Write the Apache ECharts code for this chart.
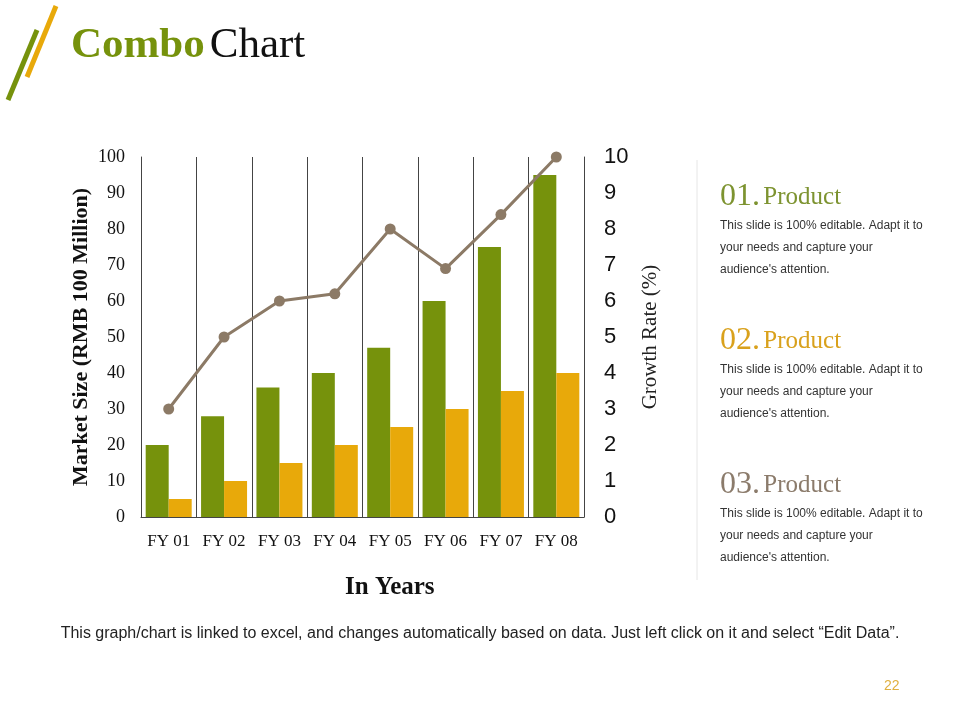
<!DOCTYPE html>
<html>
<head>
<meta charset="utf-8">
<script src="https://cdn.jsdelivr.net/npm/echarts@6/dist/echarts.min.js"></script>
<style>
  html, body { margin: 0; padding: 0; background: #fff; }
  #main { width: 960px; height: 720px; }
</style>
</head>
<body>
<div id="main"></div>
<script>
// chart values
var categories = ['FY 01', 'FY 02', 'FY 03', 'FY 04', 'FY 05', 'FY 06', 'FY 07', 'FY 08'];
var marketSizeA = [20, 28, 36, 40, 47, 60, 75, 95];
var marketSizeB = [5, 10, 15, 20, 25, 30, 35, 40];
var growthRate = [3, 5, 6, 6.2, 8, 6.9, 8.4, 10];

var productTitles = ['01.', '02.', '03.'];
var productColors = ['#7d9330', '#d9a11c', '#8b7b6b'];
var productBody = "This slide is 100% editable. Adapt it to\nyour needs and capture your\naudience's attention.";

var green = '#76920c';
var orange = '#e8a90a';
var lineColor = '#8c7a66';
var serif = '"Liberation Serif", serif';
var sans = '"Liberation Sans", Arial, sans-serif';

var myChart = echarts.init(document.getElementById('main'));

var graphics = [
    // decorative slashes next to the title
    { type: 'line', shape: { x1: 8, y1: 100, x2: 37, y2: 30 }, style: { stroke: '#76920c', lineWidth: 5 } },
    { type: 'line', shape: { x1: 27, y1: 77, x2: 56, y2: 6 }, style: { stroke: '#e8a90a', lineWidth: 5 } },
    // separator on the right panel
    { type: 'line', shape: { x1: 697, y1: 160, x2: 697, y2: 580 }, style: { stroke: '#e6e6e6', lineWidth: 1 } },
    {
        type: 'text', left: 'center', top: 626,
        style: {
            text: 'This graph/chart is linked to excel, and changes automatically based on data. Just left click on it and select \u201cEdit Data\u201d.',
            font: '16px ' + sans, fill: '#222'
        }
    },
    { type: 'text', left: 884, top: 679, style: { text: '22', font: '14px ' + sans, fill: '#e0b040' } },
    // x axis title
    { type: 'text', left: 345, top: 575, style: { text: 'In Years', font: 'bold 25px ' + serif, fill: '#111' } }
];

var headY = [181, 325, 469];
for (var k = 0; k < productTitles.length; k++) {
    graphics.push({
        type: 'text', left: 720, top: headY[k],
        style: {
            text: '{n|' + productTitles[k] + '} {p|Product}',
            rich: {
                n: { font: '32px ' + serif, fill: productColors[k] },
                p: { font: '25px ' + serif, fill: productColors[k] }
            }
        }
    });
    graphics.push({
        type: 'text', left: 720, top: headY[k] + 34,
        style: { text: productBody, font: '12px ' + sans, fill: '#333', lineHeight: 22 }
    });
}

var option = {
    animation: false,
    title: {
        text: '{g|Combo} {b|Chart}',
        left: 66, top: 19,
        textStyle: {
            rich: {
                g: { fontFamily: serif, fontSize: 43, fontWeight: 'bold', color: '#76920c' },
                b: { fontFamily: serif, fontSize: 43, fontWeight: 'normal', color: '#111' }
            }
        }
    },
    grid: { left: 141, right: 376, top: 157, bottom: 203 },
    xAxis: {
        type: 'category',
        data: categories,
        axisLine: { lineStyle: { color: '#444', width: 1 } },
        axisTick: { show: false },
        axisLabel: { interval: 0, fontFamily: serif, fontSize: 17, color: '#111', margin: 16 },
        splitLine: { show: true, interval: 0, lineStyle: { color: '#444', width: 1 } }
    },
    yAxis: [{
        type: 'value',
        min: 0, max: 100, interval: 10,
        name: 'Market Size (RMB 100 Million)',
        nameLocation: 'middle',
        nameRotate: 90,
        nameGap: 49,
        nameTextStyle: { fontFamily: serif, fontSize: 22, fontWeight: 'bold', color: '#111' },
        axisLine: { show: true, lineStyle: { color: '#444', width: 1 } },
        axisTick: { show: false },
        axisLabel: { fontFamily: serif, fontSize: 18, color: '#111', margin: 16 },
        splitLine: { show: false }
    }, {
        type: 'value',
        min: 0, max: 10, interval: 1,
        name: 'Growth Rate (%)',
        nameLocation: 'middle',
        nameRotate: 90,
        nameGap: 56,
        nameTextStyle: { fontFamily: serif, fontSize: 21, color: '#222' },
        axisLine: { show: true, lineStyle: { color: '#444', width: 1 } },
        axisTick: { show: false },
        axisLabel: { fontFamily: sans, fontSize: 22, color: '#111', margin: 20 },
        splitLine: { show: false }
    }],
    series: [{
        type: 'bar',
        data: marketSizeA,
        barWidth: 23,
        barGap: '0%',
        itemStyle: { color: green }
    }, {
        type: 'bar',
        data: marketSizeB,
        barWidth: 23,
        itemStyle: { color: orange }
    }, {
        type: 'line',
        yAxisIndex: 1,
        data: growthRate,
        symbol: 'circle',
        symbolSize: 11,
        lineStyle: { color: lineColor, width: 3 },
        itemStyle: { color: lineColor }
    }],
    graphic: graphics
};
myChart.setOption(option);
</script>
</body>
</html>
